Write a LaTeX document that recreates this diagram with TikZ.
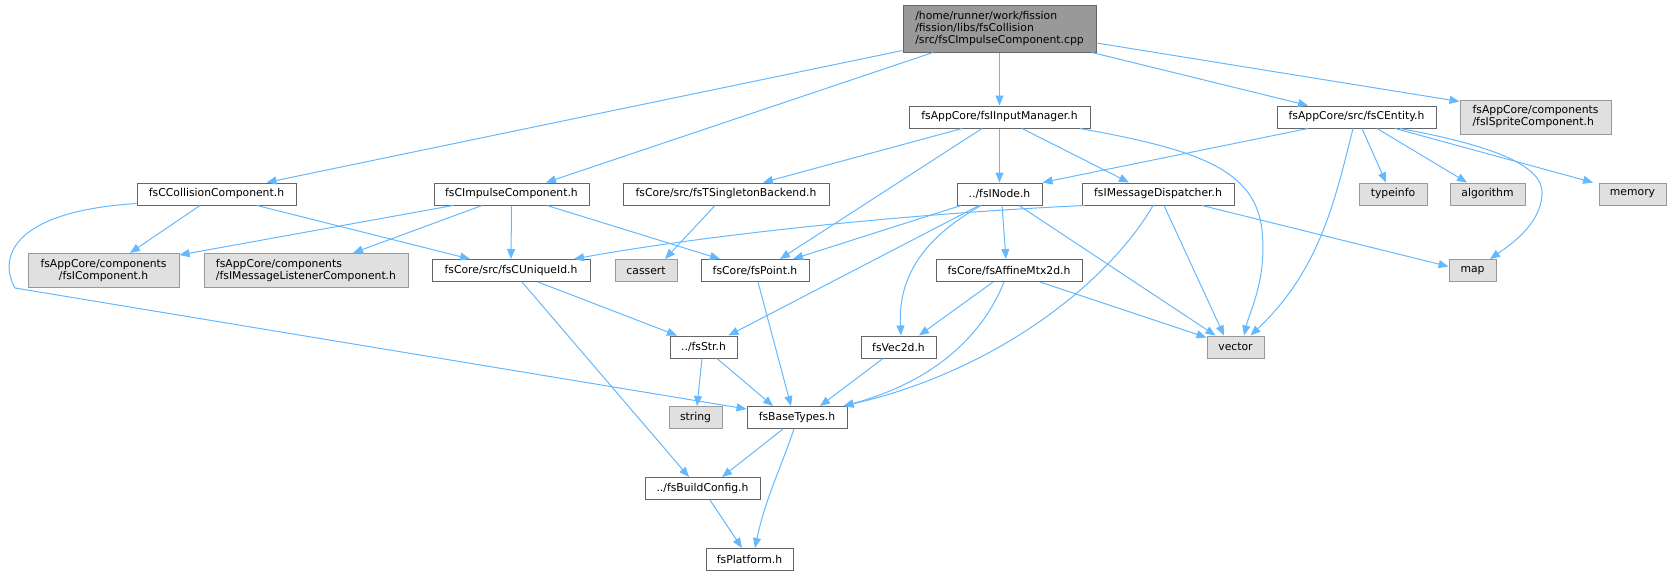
\documentclass[tikz,border=0pt]{standalone}
\usepackage{fontspec}
\setmainfont{DejaVu Sans}
\usetikzlibrary{arrows.meta}
\definecolor{edgec}{HTML}{63B8FF}
\definecolor{bdark}{HTML}{666666}
\definecolor{blight}{HTML}{999999}
\definecolor{glight}{HTML}{E0E0E0}
\definecolor{groot}{HTML}{999999}
\newcommand{\nfont}{\fontsize{10.8}{12}\selectfont}
\tikzset{
  wbox/.style={draw=bdark, fill=white, line width=1pt, inner sep=0pt, font=\nfont, text=black, minimum height=22pt},
  gbox/.style={draw=blight, fill=glight, line width=1pt, inner sep=0pt, font=\nfont, text=black, minimum height=22pt},
  rbox/.style={draw=bdark, fill=groot, line width=1pt, inner sep=0pt, font=\nfont, text=black},
  edgeline/.style={draw=edgec, line width=1pt, -{Triangle[length=10pt,width=8pt]}}
}
\begin{document}
\begin{tikzpicture}[x=1pt,y=-1pt]
\useasboundingbox (0,0) rectangle (1672,576);
% row 0
\node[rbox, minimum width=193pt, minimum height=47pt, align=left] (root) at (999.5,28.5) {/home/runner/work/fission\\/fission/libs/fsCollision\\/src/fsCImpulseComponent.cpp};
% row 1
\node[wbox, minimum width=181pt] (inputmgr) at (999.5,117) {fsAppCore/fsIInputManager.h};
\node[wbox, minimum width=159pt] (centity) at (1356.5,117) {fsAppCore/src/fsCEntity.h};
\node[gbox, minimum width=151pt, minimum height=34pt, align=left] (sprite) at (1535.5,117) {fsAppCore/components\\/fsISpriteComponent.h};
% row 2
\node[wbox, minimum width=159pt] (ccoll) at (216.5,194) {fsCCollisionComponent.h};
\node[wbox, minimum width=155pt] (cimp) at (511.5,194) {fsCImpulseComponent.h};
\node[wbox, minimum width=206pt] (tsing) at (726,194) {fsCore/src/fsTSingletonBackend.h};
\node[wbox, minimum width=85pt] (inode) at (999.5,194) {../fsINode.h};
\node[wbox, minimum width=152pt] (msgdisp) at (1158,194) {fsIMessageDispatcher.h};
\node[gbox, minimum width=68pt] (typeinfo) at (1393,194) {typeinfo};
\node[gbox, minimum width=75pt] (algorithm) at (1487.5,194) {algorithm};
\node[gbox, minimum width=67pt] (memory) at (1632.5,194) {memory};
% row 3
\node[gbox, minimum width=151pt, minimum height=34pt, align=center] (icomp) at (103.5,270.5) {fsAppCore/components\\/fsIComponent.h};
\node[gbox, minimum width=204pt, minimum height=34pt, align=left] (msglist) at (306,270.5) {fsAppCore/components\\/fsIMessageListenerComponent.h};
\node[wbox, minimum width=158pt] (uniqueid) at (511,270.5) {fsCore/src/fsCUniqueId.h};
\node[gbox, minimum width=62pt] (cassert) at (646,270.5) {cassert};
\node[wbox, minimum width=108pt] (point) at (755,270.5) {fsCore/fsPoint.h};
\node[wbox, minimum width=146pt] (affine) at (1009,270.5) {fsCore/fsAffineMtx2d.h};
\node[gbox, minimum width=47pt] (map) at (1472.5,270.5) {map};
% row 4
\node[wbox, minimum width=67pt] (fsstr) at (703.5,347) {../fsStr.h};
\node[wbox, minimum width=75pt] (vec2d) at (898.5,347) {fsVec2d.h};
\node[gbox, minimum width=57pt] (vector) at (1235.5,347) {vector};
% row 5
\node[gbox, minimum width=53pt] (string) at (695.5,417.5) {string};
\node[wbox, minimum width=100pt] (basetypes) at (797,417.5) {fsBaseTypes.h};
% row 6
\node[wbox, minimum width=115pt] (buildconfig) at (702.5,488.5) {../fsBuildConfig.h};
% row 7
\node[wbox, minimum width=87pt] (platform) at (749.5,559.5) {fsPlatform.h};

% edges from root
\draw[edgeline] ([yshift=2pt]root.south west) -- ([xshift=50pt]ccoll.north);
\draw[edgeline] ([xshift=-66.5pt]root.south) -- ([xshift=34.5pt]cimp.north);
\draw[edgeline] (root.south) -- (inputmgr.north);
\draw[edgeline] ([xshift=92.5pt]root.south) -- ([xshift=-48.5pt]centity.north);
\draw[edgeline] ([yshift=-14.5pt]root.east) -- ([yshift=-2pt]sprite.north west);
% ccoll
\draw[edgeline] ([xshift=-16.5pt]ccoll.south) -- ([xshift=26.5pt]icomp.north);
\draw[edgeline] ([xshift=40.5pt]ccoll.south) -- ([xshift=-41pt]uniqueid.north);
\draw[edgeline] ([yshift=2pt]ccoll.south west) .. controls (5,212) and (0,262) .. (15,288) -- ([yshift=-3pt]basetypes.north west);
% cimp
\draw[edgeline] ([xshift=-58.5pt]cimp.south) -- ([yshift=-2pt]icomp.north east);
\draw[edgeline] ([xshift=-29.5pt]cimp.south) -- ([xshift=47pt]msglist.north);
\draw[edgeline] (cimp.south) -- (uniqueid.north);
\draw[edgeline] ([xshift=35.5pt]cimp.south) -- ([xshift=-35pt]point.north);
% inputmgr
\draw[edgeline] ([xshift=-37.5pt]inputmgr.south) -- ([xshift=37pt]tsing.north);
\draw[edgeline] ([xshift=-17.5pt]inputmgr.south) -- ([xshift=25pt]point.north);
\draw[edgeline] (inputmgr.south) -- (inode.north);
\draw[edgeline] ([xshift=22.5pt]inputmgr.south) -- ([xshift=-29pt]msgdisp.north);
\draw[edgeline] ([xshift=80.5pt]inputmgr.south) .. controls (1200,150) and (1255,170) .. (1262,230) .. controls (1267,280) and (1250,310) .. ([xshift=8.5pt]vector.north);
% centity
\draw[edgeline] ([xshift=-48.5pt]centity.south) -- (inode.north east);
\draw[edgeline] ([xshift=5.5pt]centity.south) -- ([xshift=-7pt]typeinfo.north);
\draw[edgeline] ([xshift=20.5pt]centity.south) -- ([xshift=-20.5pt]algorithm.north);
\draw[edgeline] ([xshift=38.5pt]centity.south) -- ([xshift=-39.5pt]memory.north);
\draw[edgeline] ([xshift=43.5pt]centity.south) .. controls (1490,145) and (1545,165) .. (1542,195) .. controls (1540,225) and (1510,245) .. ([xshift=17.5pt]map.north);
\draw[edgeline] ([xshift=-3.5pt]centity.south) .. controls (1335,200) and (1320,270) .. ([xshift=15pt]vector.north);
% tsing
\draw[edgeline] ([xshift=-11pt]tsing.south) -- ([xshift=19pt]cassert.north);
% inode
\draw[edgeline] ([xshift=-38.5pt]inode.south) -- ([xshift=38pt]point.north);
\draw[edgeline] ([xshift=-20.5pt]inode.south) -- ([xshift=25pt]fsstr.north);
\draw[edgeline] ([xshift=-18.5pt]inode.south) .. controls (920,240) and (898,280) .. ([xshift=2.5pt]vec2d.north);
\draw[edgeline] ([xshift=2.5pt]inode.south) -- ([xshift=-3pt]affine.north);
\draw[edgeline] ([xshift=19.5pt]inode.south) -- ([xshift=-20pt]vector.north);
% msgdisp
\draw[edgeline] ([xshift=3pt]msgdisp.south west) .. controls (900,214) and (700,236) .. ([xshift=63pt]uniqueid.north);
\draw[edgeline] ([xshift=-5pt]msgdisp.south) .. controls (1110,280) and (1000,370) .. ([xshift=-4pt]basetypes.north east);
\draw[edgeline] ([xshift=6pt]msgdisp.south) -- ([xshift=-11.5pt]vector.north);
\draw[edgeline] ([xshift=44pt]msgdisp.south) -- ([yshift=4pt]map.west);
% uniqueid
\draw[edgeline] ([xshift=27pt]uniqueid.south) -- ([xshift=-26.5pt]fsstr.north);
\draw[edgeline] ([xshift=11pt]uniqueid.south) -- ([xshift=-13.5pt]buildconfig.north);
% point
\draw[edgeline] ([xshift=3pt]point.south) -- ([xshift=-6pt]basetypes.north);
% affine
\draw[edgeline] ([xshift=-16pt]affine.south) -- ([xshift=20.5pt]vec2d.north);
\draw[edgeline] ([xshift=-5pt]affine.south) .. controls (985,330) and (940,380) .. ([xshift=-4pt]basetypes.north east);
\draw[edgeline] ([xshift=31pt]affine.south) -- ([yshift=-2pt]vector.north west);
% fsstr
\draw[edgeline] ([xshift=-1.5pt]fsstr.south) -- ([xshift=1.5pt]string.north);
\draw[edgeline] ([xshift=13.5pt]fsstr.south) -- ([xshift=-24pt]basetypes.north);
% vec2d
\draw[edgeline] ([xshift=-15.5pt]vec2d.south) -- ([xshift=23pt]basetypes.north);
% basetypes
\draw[edgeline] ([xshift=-14pt]basetypes.south) -- ([xshift=19.5pt]buildconfig.north);
\draw[edgeline] ([xshift=-3pt]basetypes.south) .. controls (780,470) and (765,500) .. ([xshift=5.5pt]platform.north);
% buildconfig
\draw[edgeline] ([xshift=7.5pt]buildconfig.south) -- ([xshift=-7.5pt]platform.north);
\end{tikzpicture}
\end{document}
